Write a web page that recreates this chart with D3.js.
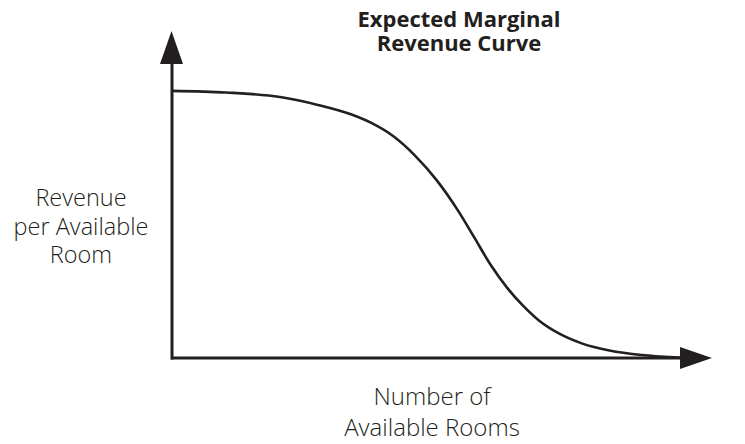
<!DOCTYPE html>
<html>
<head>
<meta charset="utf-8">
<script src="https://cdn.jsdelivr.net/npm/d3@7"></script>
<style>
  body { margin: 0; background: #fff; }
  svg text { font-family: "Open Sans", "Noto Sans", sans-serif; fill: #231f20; }
</style>
</head>
<body>
<svg id="chart" width="745" height="444"></svg>
<script>
// curve (x = share of rooms, y = revenue, both 0..100)
var rooms   = [0, 10, 20, 27, 33, 37, 41, 45, 49, 53, 56, 59, 62, 65, 68, 72, 76, 81, 87, 93, 96];
var revenue = [81.7, 81.2, 79.8, 77.4, 74.6, 71.8, 67.8, 61.9, 54.4, 45.0, 36.8, 28.5, 21.6, 16.0, 11.4, 7.2, 4.4, 2.3, 0.9, 0.2, 0];

var titleLines  = ["Expected Marginal", "Revenue Curve"];
var yLabelLines = ["Revenue", "per Available", "Room"];
var xLabelLines = ["Number of", "Available Rooms"];

var ink = "#231f20";
var svg = d3.select('#chart');

var x = d3.scaleLinear().domain([0, 100]).range([172, 712]);
var y = d3.scaleLinear().domain([0, 100]).range([358, 31]);

var x0 = x(0), y0 = y(0);
var xTip = x.range()[1], yTip = y.range()[1];

// axes
svg.append('line')
    .attr('x1', x0 - 1).attr('y1', y0)
    .attr('x2', xTip - 30).attr('y2', y0)
    .attr('stroke', ink).attr('stroke-width', 3);

svg.append('line')
    .attr('x1', x0).attr('y1', y0 + 1.5)
    .attr('x2', x0).attr('y2', yTip + 30)
    .attr('stroke', ink).attr('stroke-width', 3);

// arrow heads
svg.append('path')
    .attr('d', 'M' + xTip + ',' + y0 + 'L' + (xTip - 32) + ',' + (y0 - 11) + 'L' + (xTip - 32) + ',' + (y0 + 11) + 'Z')
    .attr('fill', ink);

svg.append('path')
    .attr('d', 'M' + (x0 - 0.5) + ',' + yTip + 'L' + (x0 - 12) + ',' + (yTip + 33) + 'L' + (x0 + 11) + ',' + (yTip + 33) + 'Z')
    .attr('fill', ink);

// the curve
var pts = rooms.map(function(d, i) { return [d, revenue[i]]; });
var line = d3.line()
    .x(function(d) { return x(d[0]); })
    .y(function(d) { return y(d[1]); })
    .curve(d3.curveMonotoneX);

svg.append('path')
    .datum(pts)
    .attr('d', line)
    .attr('fill', 'none')
    .attr('stroke', ink)
    .attr('stroke-width', 2.6);

// multi-line labels: one text element, one tspan per line
function block(lines, cx, firstBaseline, step, size, weight) {
    svg.append('text')
        .attr('x', cx)
        .attr('y', firstBaseline)
        .attr('text-anchor', 'middle')
        .style('font-size', size + 'px')
        .style('font-weight', weight)
        .selectAll('tspan')
        .data(lines)
        .enter()
        .append('tspan')
        .attr('x', cx)
        .attr('dy', function(d, i) { return i == 0 ? 0 : step; })
        .text(function(d) { return d; });
}

block(titleLines, 459, 27, 23.5, 22, 700);
block(yLabelLines, 81, 206, 28.5, 23.5, 300);
block(xLabelLines, 432, 405, 31, 24, 300);
</script>
</body>
</html>
